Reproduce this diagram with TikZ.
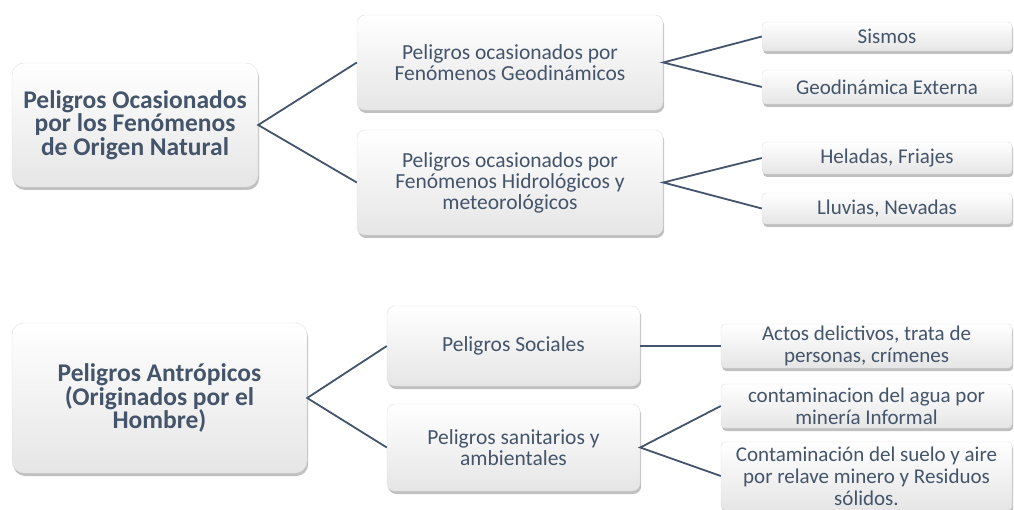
\documentclass[tikz,border=0pt]{standalone}
\usepackage{fontspec}
\setmainfont{Carlito}
\usetikzlibrary{shadows}
\definecolor{tx}{HTML}{44546A}
\begin{document}
\begin{tikzpicture}[x=1pt,y=-1pt,
  box/.style={draw=black!12, line width=0.4pt, top color=white, bottom color=black!10,
    text=tx, align=center, inner sep=1pt, anchor=center,
    drop shadow={shadow xshift=1.2pt, shadow yshift=-3pt, fill=black!70, opacity=0.35}},
  rootbox/.style={box, rounded corners=12pt, font=\fontsize{25.5}{23.6}\selectfont\bfseries},
  midbox/.style={box, rounded corners=8pt, font=\fontsize{21.5}{21}\selectfont},
  leafbox/.style={box, rounded corners=4pt, font=\fontsize{21}{22}\selectfont},
  link/.style={draw=tx, line width=1.8pt}]
\fill[white] (0,0) rectangle (1014,510);
\useasboundingbox (0,0) rectangle (1014,510);

% top tree
\node[rootbox, minimum width=246pt, minimum height=124pt] (A) at (135,125)
  {Peligros Ocasionados\\por los Fenómenos\\de Origen Natural};
\node[midbox, minimum width=306pt, minimum height=95pt] (B1) at (510,62.5)
  {Peligros ocasionados por\\Fenómenos Geodinámicos};
\node[midbox, minimum width=306pt, minimum height=105pt] (B2) at (510,182.5)
  {Peligros ocasionados por\\Fenómenos Hidrológicos y\\meteorológicos};
\node[leafbox, minimum width=250pt, minimum height=29pt] (L1) at (887,36.5) {Sismos};
\node[leafbox, minimum width=250pt, minimum height=34pt] (L2) at (887,87) {Geodinámica Externa};
\node[leafbox, minimum width=250pt, minimum height=32pt] (L3) at (887,158) {Heladas, Friajes};
\node[leafbox, minimum width=250pt, minimum height=31pt] (L4) at (887,208.5) {Lluvias, Nevadas};

% bottom tree
\node[rootbox, minimum width=295pt, minimum height=150pt] (C) at (159.5,398)
  {Peligros Antrópicos\\(Originados por el\\Hombre)};
\node[midbox, minimum width=253pt, minimum height=80pt] (B3) at (513.5,346) {Peligros Sociales};
\node[midbox, minimum width=253pt, minimum height=87pt] (B4) at (513.5,447.5)
  {Peligros sanitarios y\\ambientales};
\node[leafbox, minimum width=291pt, minimum height=44pt] (L5) at (866.5,346)
  {Actos delictivos, trata de\\personas, crímenes};
\node[leafbox, minimum width=291pt, minimum height=44pt] (L6) at (866.5,406)
  {contaminacion del agua por\\minería Informal};
\node[leafbox, minimum width=291pt, minimum height=68pt] (L7) at (866.5,476)
  {Contaminación del suelo y aire\\por relave minero y Residuos\\sólidos.};

% connectors
\draw[link] (B1.west) -- (A.east) -- (B2.west);
\draw[link] (L1.west) -- (B1.east) -- (L2.west);
\draw[link] (L3.west) -- (B2.east) -- (L4.west);
\draw[link] (B3.west) -- (C.east) -- (B4.west);
\draw[link] (B3.east) -- (L5.west);
\draw[link] (L6.west) -- (B4.east) -- (L7.west);
\end{tikzpicture}
\end{document}
